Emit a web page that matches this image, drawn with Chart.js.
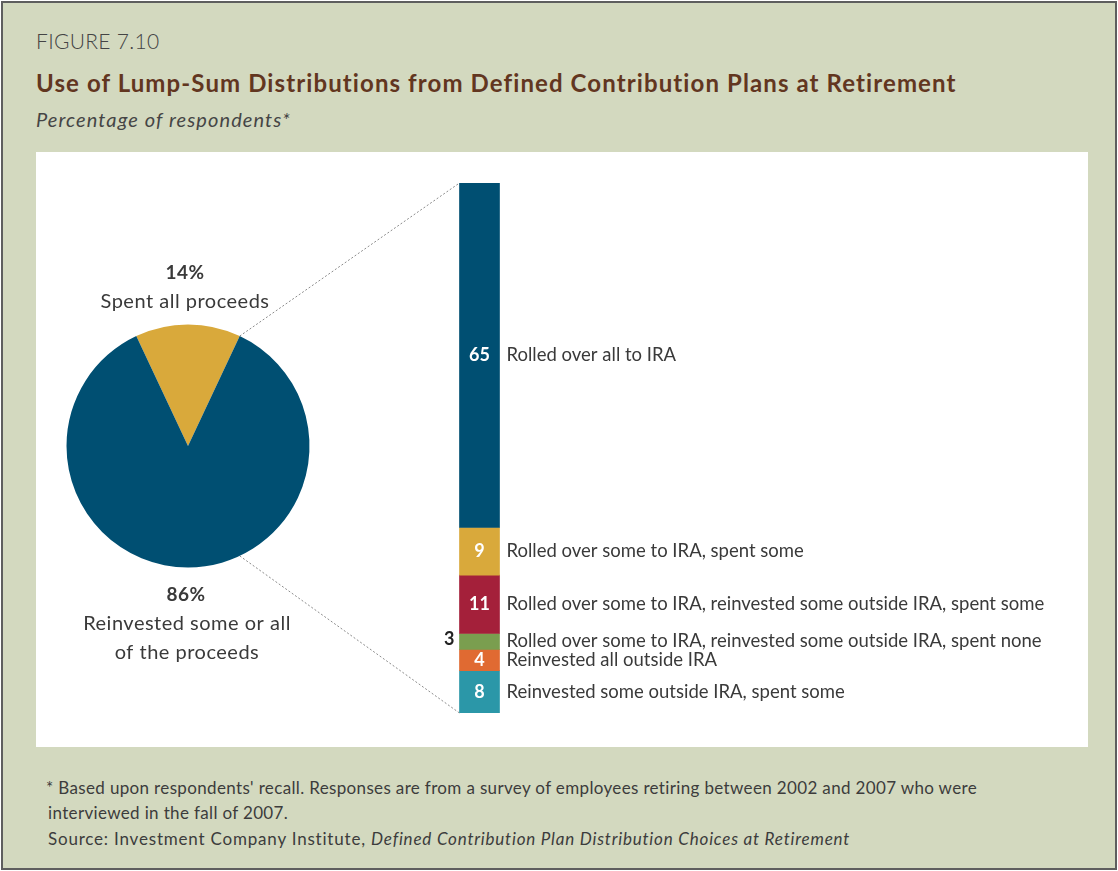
<!DOCTYPE html>
<html>
<head>
<meta charset="utf-8">
<title>Use of Lump-Sum Distributions</title>
<script src="https://cdn.jsdelivr.net/npm/chart.js@4.4.0/dist/chart.umd.min.js"></script>
<style>
  html, body { margin: 0; padding: 0; }
  body { width: 1118px; height: 871px; background: #ffffff; font-family: Lato, "Open Sans", sans-serif; position: relative; overflow: hidden; }
  .frame { position: absolute; left: 1px; top: 1px; width: 1112px; height: 865px; border: 2px solid #5e5e5e; background: #d3d9bf; }
  .fig { position: absolute; left: 33px; top: 25px; font-size: 21px; color: #444; font-weight: 300; letter-spacing: 0.3px; }
  .title { position: absolute; left: 33px; top: 65px; font-size: 24px; font-weight: 700; color: #62361f; white-space: nowrap; letter-spacing: 1.1px; }
  .subtitle { position: absolute; left: 33px; top: 104px; font-size: 20px; font-style: italic; color: #454545; letter-spacing: 1.1px; }
  .panel { position: absolute; left: 33px; top: 149px; width: 1052px; height: 595px; background: #ffffff; }
  .panel canvas { position: absolute; left: 0; top: 0; }
  .note { position: absolute; left: 43px; font-size: 17px; color: #3c3c3c; white-space: nowrap; letter-spacing: 0.35px; }
</style>
</head>
<body>
<div class="frame">
  <div class="fig">FIGURE 7.10</div>
  <div class="title">Use of Lump-Sum Distributions from Defined Contribution Plans at Retirement</div>
  <div class="subtitle">Percentage of respondents*</div>
  <div class="panel">
    <canvas id="barChart" width="1052" height="595"></canvas>
    <canvas id="pieChart" width="1052" height="595"></canvas>
  </div>
  <div class="note" style="top:774px">* Based upon respondents' recall. Responses are from a survey of employees retiring between 2002 and 2007 who were</div>
  <div class="note" style="top:799px; left:45px">interviewed in the fall of 2007.</div>
  <div class="note" style="top:825px; left:45px; letter-spacing:0.8px">Source: Investment Company Institute, <i>Defined Contribution Plan Distribution Choices at Retirement</i></div>
</div>
<script>
// overall split of lump-sum use
const pieLabels = ["Spent all proceeds", "Reinvested some or all|of the proceeds"];
const pieValues = [14, 86];
const pieColors = ["#d9a93b", "#004f72"];

// breakdown of the reinvested share
const barCategories = [
    "Rolled over all to IRA",
    "Rolled over some to IRA, spent some",
    "Rolled over some to IRA, reinvested some outside IRA, spent some",
    "Rolled over some to IRA, reinvested some outside IRA, spent none",
    "Reinvested all outside IRA",
    "Reinvested some outside IRA, spent some",
];
const barValues = [65, 9, 11, 3, 4, 8];
const barColors = ["#004f72", "#d9a93b", "#a4203a", "#7a9e4f", "#e06a32", "#2b97a8"];

const textColor = "#3a3a3a";
const fontFamily = "Lato, 'Open Sans', sans-serif";

// labels above and below the pie
const pieTextPlugin = {
    id: "pieText",
    afterDatasetsDraw(chart) {
        const arc = chart.getDatasetMeta(0).data[0];
        const ctx = chart.ctx;
        const cx = arc.x, cy = arc.y, r = arc.outerRadius;
        ctx.save();
        ctx.fillStyle = textColor;
        ctx.textAlign = "center";
        ctx.textBaseline = "middle";
        ctx.letterSpacing = "0.5px";

        ctx.font = "bold 19px " + fontFamily;
        ctx.fillText(pieValues[0] + "%", cx - 3, cy - r - 52);
        ctx.font = "20px " + fontFamily;
        ctx.fillText(pieLabels[0], cx - 3, cy - r - 23);

        ctx.font = "bold 19px " + fontFamily;
        ctx.fillText(pieValues[1] + "%", cx - 2, cy + r + 27);
        ctx.font = "20px " + fontFamily;
        pieLabels[1].split("|").forEach((line, i) => {
            ctx.fillText(line, cx - 1, cy + r + 56 + i * 29);
        });
        ctx.restore();
    },
};

const pieChart = new Chart(document.getElementById("pieChart"), {
    type: "pie",
    data: {
        labels: pieLabels,
        datasets: [
            {
                data: pieValues,
                backgroundColor: pieColors,
                borderWidth: 0,
            },
        ],
    },
    options: {
        responsive: false,
        animation: false,
        events: [],
        radius: 121.5,
        // centre the small slice on the top of the circle
        rotation: -pieValues[0] * 1.8,
        layout: { padding: { left: 0, right: 748, top: 0, bottom: 7 } },
        plugins: {
            legend: { display: false },
            tooltip: { enabled: false },
        },
    },
    plugins: [pieTextPlugin],
});

// dotted lines from the reinvested slice out to the stacked bar
const connectorPlugin = {
    id: "connector",
    beforeDatasetsDraw(chart) {
        const arc = pieChart.getDatasetMeta(0).data[0];
        const ang = arc.endAngle;
        const r = arc.outerRadius;
        const first = chart.getDatasetMeta(0).data[0];
        const last = chart.getDatasetMeta(barValues.length - 1).data[0];
        const left = first.x - first.width / 2;
        const top = Math.min(first.y, first.base);
        const bottom = Math.max(last.y, last.base);
        const ctx = chart.ctx;
        ctx.save();
        ctx.strokeStyle = "#8c8c8c";
        ctx.lineWidth = 1;
        ctx.setLineDash([2, 2]);
        ctx.beginPath();
        ctx.moveTo(arc.x + r * Math.cos(ang), arc.y + r * Math.sin(ang));
        ctx.lineTo(left, top);
        ctx.moveTo(arc.x + r * Math.cos(-ang), arc.y + r * Math.sin(-ang));
        ctx.lineTo(left, bottom);
        ctx.stroke();
        ctx.restore();
    },
};

// values inside the segments, descriptions to the right
const barTextPlugin = {
    id: "barText",
    afterDatasetsDraw(chart) {
        const ctx = chart.ctx;
        ctx.save();
        ctx.textBaseline = "middle";
        barValues.forEach((v, i) => {
            const bar = chart.getDatasetMeta(i).data[0];
            const yMid = (bar.y + bar.base) / 2;
            const h = Math.abs(bar.base - bar.y);
            const left = bar.x - bar.width / 2;
            const right = bar.x + bar.width / 2;

            ctx.font = "bold 18px " + fontFamily;
            if (h >= 19) {
                ctx.fillStyle = "#ffffff";
                ctx.textAlign = "center";
                ctx.fillText(String(v), bar.x, yMid);
            } else {
                ctx.fillStyle = "#222222";
                ctx.textAlign = "right";
                ctx.fillText(String(v), left - 5, yMid - 2);
            }

            ctx.font = "18.5px " + fontFamily;
            ctx.fillStyle = textColor;
            ctx.textAlign = "left";
            ctx.fillText(barCategories[i], right + 7, yMid);
        });
        ctx.restore();
    },
};

const barChart = new Chart(document.getElementById("barChart"), {
    type: "bar",
    data: {
        labels: [""],
        datasets: barValues.map((v, i) => ({
            label: barCategories[i],
            data: [v],
            backgroundColor: barColors[i],
            borderWidth: 0,
            barThickness: 40,
        })),
    },
    options: {
        responsive: false,
        animation: false,
        events: [],
        layout: { padding: { left: 404, right: 569, top: 31, bottom: 34 } },
        scales: {
            x: { display: false, stacked: true },
            y: { display: false, stacked: true, min: 0, max: 100, reverse: true },
        },
        plugins: {
            legend: { display: false },
            tooltip: { enabled: false },
        },
    },
    plugins: [connectorPlugin, barTextPlugin],
});
</script>
</body>
</html>
